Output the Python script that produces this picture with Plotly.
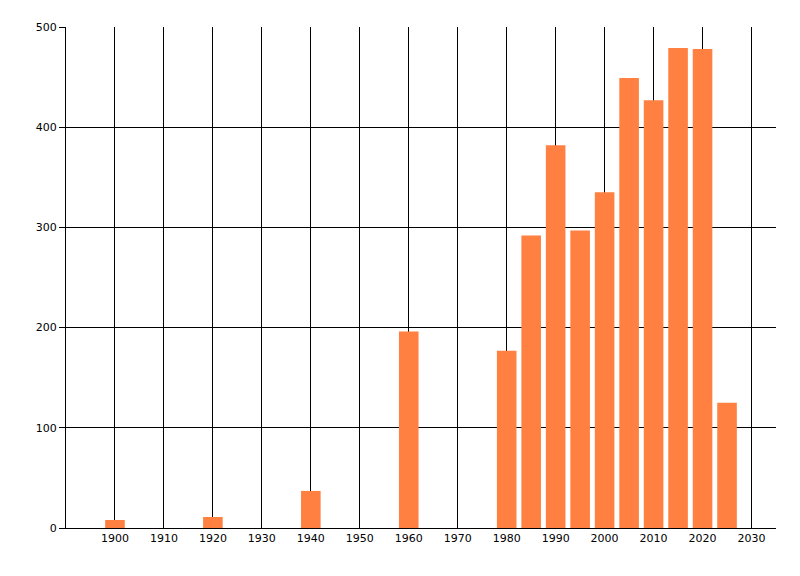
import plotly.graph_objects as go

# year buckets and counts
years = [1900, 1920, 1940, 1960, 1980, 1985, 1990, 1995, 2000, 2005, 2010, 2015, 2020, 2025]
counts = [8, 11, 37, 196, 177, 292, 382, 297, 335, 449, 427, 479, 478, 125]
x_ticks = list(range(1900, 2031, 10))
y_ticks = [0, 100, 200, 300, 400, 500]

fig = go.Figure()
fig.add_trace(go.Bar(x=years, y=counts, width=4, marker=dict(color="#FF8040", line_width=0)))

# page has an 8px body margin, so size the figure to fit inside the window
fig.update_layout(
    width=784,
    height=560,
    margin=dict(l=58, r=16, t=19, b=40),
    plot_bgcolor="white",
    paper_bgcolor="white",
    font=dict(family="DejaVu Sans, Liberation Sans, sans-serif", size=11, color="black"),
    showlegend=False,
)
fig.update_xaxes(
    range=[1890, 2035],
    tickvals=x_ticks,
    showgrid=True,
    gridcolor="black",
    gridwidth=1,
    showline=True,
    linecolor="black",
    linewidth=1,
    ticks="",
    zeroline=False,
)
fig.update_yaxes(
    range=[0, 500],
    tickvals=y_ticks,
    showgrid=True,
    gridcolor="black",
    gridwidth=1,
    showline=True,
    linecolor="black",
    linewidth=1,
    ticks="outside",
    ticklen=6,
    tickcolor="black",
    zeroline=False,
)

fig.write_html("out.html")
